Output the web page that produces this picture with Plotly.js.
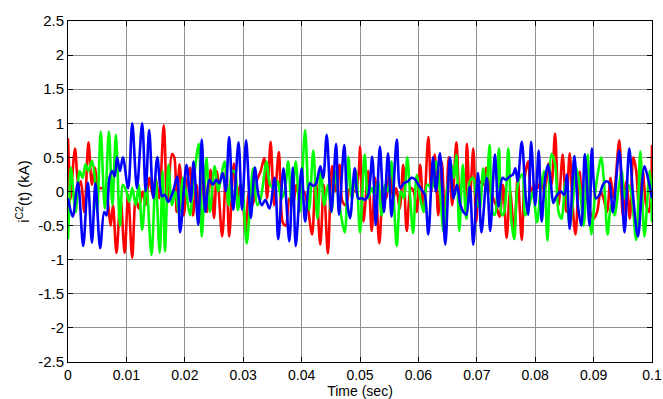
<!DOCTYPE html>
<html><head><meta charset="utf-8">
<script src="https://cdn.plot.ly/plotly-3.0.1.min.js"></script>
<style>html,body{margin:0;padding:0;background:#fff}#c{width:663px;height:399px}</style>
</head><body><div id="c"></div>
<script>
// time in ms, current in kA
const redT = [0,0.2,0.4,1.2,1.8,2.2,2.8,3.5,4.1,4.6,5.2,5.8,6.3,6.8,7.3,7.7,8.3,9.0,9.7,10.3,11.0,11.6,12.1,12.8,13.3,13.9,14.5,15.0,15.6,16.4,17.0,17.8,18.2,18.6,19.1,19.8,20.4,20.9,21.4,22.0,22.5,23.2,23.8,24.4,25.0,25.5,26.4,27.1,27.6,28.4,29.0,29.5,30.0,30.4,31.0,31.6,32.3,33.0,33.6,34.1,34.7,35.3,36.1,36.8,37.3,37.9,38.5,39.1,39.7,40.4,41.0,41.8,42.4,43.2,43.8,44.5,45.2,45.8,46.5,47.0,47.6,48.3,49.2,49.8,50.0,50.6,51.4,52.0,52.6,53.3,54.0,54.5,55.1,55.7,56.2,56.8,57.4,58.0,58.7,59.2,59.7,60.3,60.9,61.7,62.2,62.8,63.4,64.0,64.6,65.2,65.8,66.5,67.2,67.8,68.3,68.8,69.4,69.9,70.5,71.1,71.6,72.2,72.8,73.3,73.9,74.5,75.1,75.7,76.4,77.0,77.7,78.2,78.8,79.3,79.9,80.4,81.0,81.6,82.3,82.8,83.4,84.0,84.7,85.3,85.9,86.4,86.9,87.6,88.2,88.8,89.4,90.0,90.6,91.2,91.7,92.3,92.9,93.4,94.4,95.0,95.6,96.2,96.8,97.3,97.8,98.4,99.0,99.5,100];
const redV = [0.78,0.3,-0.12,0.63,0.07,0.15,-0.3,0.72,0.1,0.35,0.05,0.05,0.0,-0.15,-0.5,-0.2,-0.9,-0.1,-0.9,-0.05,-0.97,-0.1,-0.25,0.0,-0.2,0.2,-0.05,0.2,-0.1,0.97,-0.17,0.55,0.5,-0.3,0.4,-0.35,0.15,0.35,-0.35,0.1,-0.45,0.34,-0.3,0.32,-0.39,0.3,-0.66,0.35,-0.66,0.41,-0.1,0.1,-0.2,-0.6,0.0,-0.2,0.15,0.3,0.49,-0.1,0.73,-0.2,0.58,-0.46,-0.5,-0.1,-0.2,0.1,-0.1,0.0,-0.2,-0.63,0.2,-0.78,0.1,-0.91,0.37,0.0,0.39,-0.15,-0.2,0.05,0.0,0.3,0.66,-0.44,0.3,-0.58,0.2,-0.76,0.05,-0.1,0.3,-0.1,0.05,-0.25,0.39,-0.58,0.05,0.0,-0.3,0.39,-0.3,0.8,0.0,0.54,-0.35,0.44,-0.45,0.5,-0.2,0.72,-0.2,-0.3,0.7,-0.1,0.63,-0.44,0.15,0.1,0.35,0.05,-0.1,-0.2,-0.37,0.1,-0.68,0.0,-0.58,0.2,-0.71,0.2,0.44,0.0,0.1,0.05,0.15,0.0,0.41,0.1,0.85,-0.2,0.54,-0.3,0.56,-0.2,-0.63,0.29,-0.15,-0.1,-0.3,-0.4,-0.3,0.0,-0.1,-0.3,0.2,-0.1,0.75,-0.35,0.15,-0.4,0.5,0.3,-0.3,0.3,-0.2,-0.3,0.68];

const greenT = [0,0.2,0.5,1.3,2.0,2.5,3.0,3.5,4.1,4.6,5.0,5.6,6.3,7.0,7.6,8.2,8.9,9.4,10.0,10.5,11.0,11.6,12.1,12.7,13.4,14.3,15.0,15.7,16.2,16.6,17.2,17.8,18.4,19.0,19.7,20.3,20.9,21.5,22.4,22.9,23.7,24.3,25.1,25.7,26.2,26.8,27.5,28.1,28.6,29.1,29.8,30.6,31.7,32.4,33.0,34.0,34.6,35.3,35.9,36.5,37.1,37.7,38.3,39.0,39.7,40.6,41.3,42.0,42.7,43.3,43.9,44.5,45.1,45.7,46.4,47.4,48.0,48.6,49.3,50.0,50.8,51.4,52.0,52.5,53.1,53.7,54.3,54.8,55.4,55.9,56.3,57.0,57.5,58.1,58.6,59.1,59.7,60.3,60.9,61.5,62.3,63.1,63.7,64.3,65.0,65.7,66.1,66.5,67.0,67.6,68.2,68.8,69.4,69.9,70.5,71.1,71.6,72.2,72.7,73.1,73.8,74.3,74.7,75.4,75.9,76.4,77.1,77.8,78.3,79.0,79.6,80.3,80.9,81.5,82.1,82.8,83.4,84.0,84.5,85.2,85.9,86.4,87.0,87.6,88.3,89.0,89.6,90.3,90.8,91.3,91.9,92.4,93.0,93.6,94.2,94.8,95.3,95.9,96.4,97.3,98.0,98.7,99.6,100];
const greenV = [-0.7,-0.25,0.35,-0.3,0.3,0.2,0.4,0.3,0.45,0.2,-0.3,0.88,-0.25,0.88,-0.2,0.83,-0.5,0.1,0.0,-0.15,0.05,-0.2,0.1,-0.56,0.1,-0.93,0.2,-0.9,0.3,-0.88,0.39,-0.2,0.0,-0.34,0.2,-0.05,-0.35,0.15,0.7,-0.66,0.49,-0.3,0.37,0.0,0.2,0.44,-0.2,0.3,0.28,-0.27,0.1,-0.76,0.34,-0.2,-0.1,0.44,0.1,0.05,0.15,-0.1,0.0,0.44,-0.2,0.44,-0.3,0.9,-0.27,0.6,-0.4,0.3,-0.2,0.1,-0.3,0.3,-0.15,-0.6,0.51,-0.1,0.3,-0.6,0.54,-0.1,0.05,-0.05,0.15,-0.35,0.1,0.0,0.44,-0.3,-0.8,0.0,-0.1,0.5,-0.1,-0.61,0.24,-0.1,-0.3,0.1,0.05,0.44,0.0,-0.58,0.1,0.39,0.2,0.54,-0.58,0.39,-0.4,0.15,0.2,-0.1,-0.25,0.34,0.0,0.68,-0.3,-0.34,0.63,-0.35,-0.3,0.63,-0.4,-0.7,0.15,0.25,-0.35,-0.2,0.0,-0.45,0.0,0.3,-0.72,0.55,0.4,-0.3,-0.4,0.15,-0.5,-0.2,0.35,0.1,-0.5,0.54,-0.63,0.0,0.3,0.5,0.0,-0.63,-0.2,-0.35,0.0,0.3,-0.1,0.1,0.0,-0.71,0.59,-0.66,0.3,-0.45];

const blueT = [0,0.8,1.7,2.6,3.4,4.1,4.7,5.5,6.2,6.6,7.1,7.6,8.0,8.4,8.9,9.4,10.3,11.0,11.8,12.7,13.3,13.9,14.6,15.3,16.1,16.6,17.2,18.0,18.7,19.2,20.3,21.0,21.5,22.3,22.9,23.5,24.2,24.8,25.4,25.9,26.5,27.0,27.6,28.3,29.2,29.8,30.5,31.3,32.0,32.6,33.2,33.8,34.5,35.4,36.0,36.9,37.9,38.5,39.0,40.0,40.6,41.4,42.0,42.5,43.2,43.7,44.3,45.1,45.9,46.4,47.3,47.8,48.3,49.1,49.7,50.3,50.8,51.4,52.1,52.7,53.4,54.1,54.8,55.4,56.3,56.9,57.5,58.2,58.8,59.4,60.0,60.6,61.1,61.7,62.5,63.0,63.7,64.6,65.4,66.0,66.6,67.2,67.7,68.2,68.8,69.4,70.2,70.8,71.7,72.3,73.1,73.7,74.4,75.0,75.6,76.2,76.6,77.0,77.7,78.4,78.8,79.3,80.0,80.6,81.1,81.7,82.2,82.7,83.1,83.6,84.4,85.0,85.4,85.9,86.7,87.3,87.9,88.5,89.3,89.7,90.4,91.0,91.6,92.2,92.7,93.3,94.4,95.3,96.1,96.8,97.6,98.7,99.3,100];
const blueV = [-0.1,-0.37,0.13,-0.8,0.13,-0.75,0.12,-0.83,-0.3,-0.35,0.2,0.3,0.22,0.5,0.3,0.5,0.05,1.0,0.05,1.0,0.0,0.9,-0.1,0.5,-0.07,-0.05,-0.15,0.0,0.22,-0.6,0.39,-0.15,0.44,-0.49,0.76,-0.3,0.17,0.1,0.17,0.12,0.27,0.0,0.8,-0.27,0.72,-0.27,0.75,-0.39,0.35,-0.05,-0.2,-0.12,-0.25,0.2,-0.7,0.34,-0.73,0.35,-0.8,0.34,-0.44,0.12,0.08,0.12,0.37,0.2,0.83,-0.3,0.7,-0.34,0.68,-0.15,-0.39,0.34,-0.1,-0.1,-0.12,-0.05,0.51,-0.49,0.66,-0.3,0.56,-0.37,0.76,0.05,0.12,0.15,0.2,0.18,0.1,0.02,-0.05,-0.63,0.5,0.0,0.56,-0.78,0.5,-0.1,0.1,-0.2,-0.3,-0.34,0.07,-0.78,0.27,-0.6,0.2,-0.58,0.54,-0.22,0.2,0.17,0.22,0.25,0.34,0.15,0.73,-0.1,-0.34,0.73,-0.2,0.6,-0.44,0.2,0.39,0.1,-0.17,-0.07,0.0,-0.05,0.25,-0.55,0.52,-0.2,-0.5,0.55,-0.5,0.63,-0.1,-0.05,0.1,0.15,0.12,-0.3,0.6,-0.6,0.63,-0.1,-0.66,0.37,0.2,-0.1];

const xTickVals = [0,0.01,0.02,0.03,0.04,0.05,0.06,0.07,0.08,0.09,0.1];
const xTickText = ["0","0.01","0.02","0.03","0.04","0.05","0.06","0.07","0.08","0.09","0.1"];
const yTickVals = [-2.5,-2,-1.5,-1,-0.5,0,0.5,1,1.5,2,2.5];
const yTickText = ["-2.5","-2","-1.5","-1","-0.5","0","0.5","1","1.5","2","2.5"];

const toSec = a => a.map(v => v / 1000);
function tr(t, v, color) {
  return {x: toSec(t), y: v, type: 'scatter', mode: 'lines',
          line: {color: color, width: 2.6, shape: 'spline', smoothing: 0.9},
          hoverinfo: 'skip', showlegend: false};
}
const data = [tr(redT, redV, '#ff0000'), tr(greenT, greenV, '#00ff00'), tr(blueT, blueV, '#0000ff')];

const fam = '"Liberation Sans", Arial, sans-serif';
const font15 = {family: fam, size: 15, color: '#000'};
const font14 = {family: fam, size: 14, color: '#000'};
const axisCommon = {showline: true, linecolor: '#000', linewidth: 1, mirror: 'ticks',
  ticks: 'inside', ticklen: 5, tickcolor: '#000', showgrid: true, gridcolor: '#909090',
  gridwidth: 1, zeroline: false};
const layout = {
  width: 663, height: 399, paper_bgcolor: '#fff', plot_bgcolor: '#fff', font: font14,
  margin: {l: 68, r: 11, t: 21, b: 37},
  xaxis: Object.assign({}, axisCommon, {range: [0, 0.1], tickmode: 'array', tickvals: xTickVals, ticktext: xTickText,
    tickfont: font14, title: {text: 'Time (sec)', font: font14, standoff: 0}}),
  yaxis: Object.assign({}, axisCommon, {range: [-2.5, 2.5], tickmode: 'array', tickvals: yTickVals, ticktext: yTickText,
    tickfont: font15, title: {text: 'i<sup>C2</sup>(t) (kA)', font: font15, standoff: 4}})
};
Plotly.newPlot('c', data, layout, {staticPlot: true, displayModeBar: false});
</script></body></html>
